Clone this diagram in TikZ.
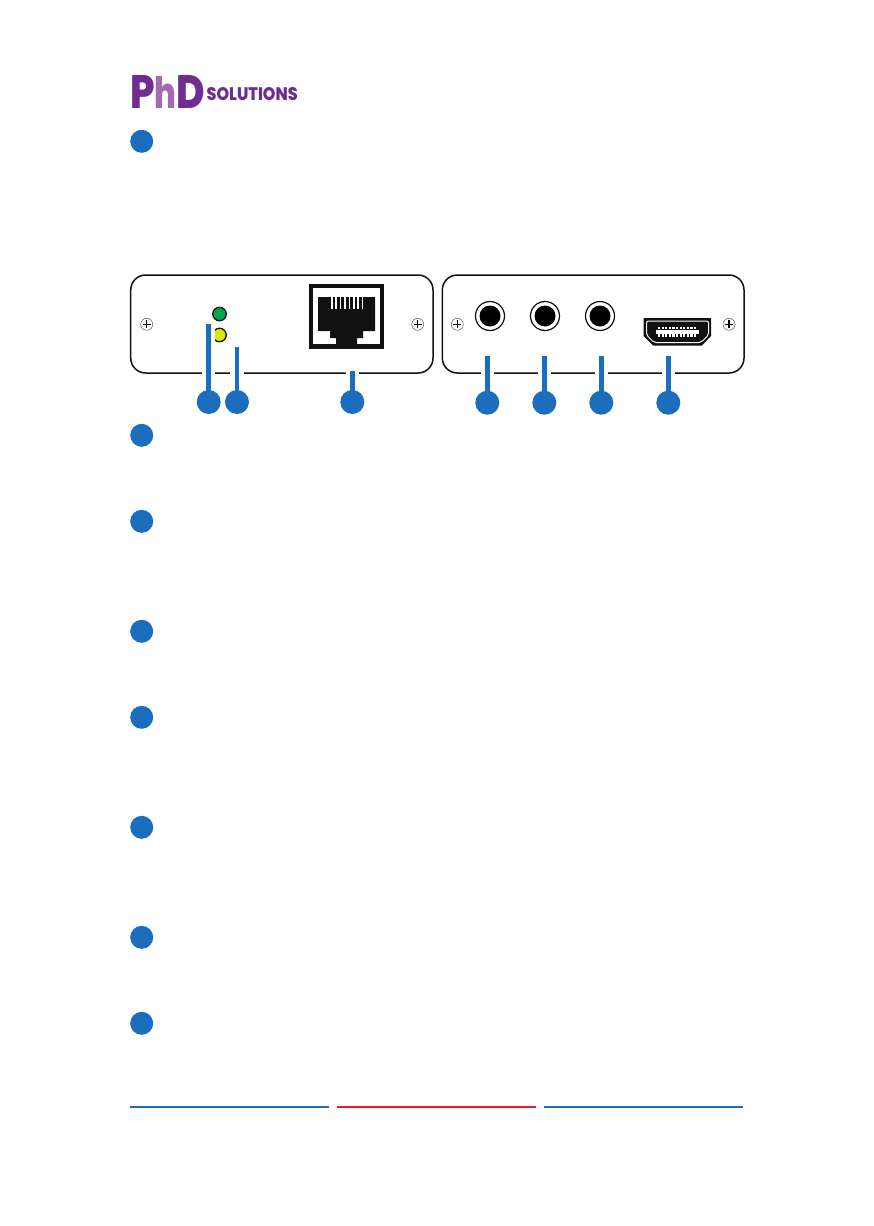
\documentclass[tikz,border=0pt]{standalone}
\usepackage{graphicx}
\usepackage{fontspec}
\setmainfont{Poppins}[BoldFont={Poppins ExtraBold},UprightFont={* Regular}]
\definecolor{pblue}{HTML}{1A6EBD}
\definecolor{pdark}{HTML}{6F2C91}
\definecolor{plight}{HTML}{A568B2}
\definecolor{pgreen}{HTML}{00A651}
\definecolor{pyellow}{HTML}{DDE600}
\definecolor{pred}{HTML}{ED1C24}
\definecolor{pblack}{HTML}{111111}
\tikzset{
  x=1pt,y=-1pt,
  panel/.style={draw=pblack,line width=1.5pt,fill=white,rounded corners=15pt},
  bullet/.style={circle,fill=pblue,minimum size=23pt,inner sep=0pt,draw=none},
  callout/.style={circle,fill=pblue,minimum size=24pt,inner sep=0pt,draw=none},
  conn/.style={draw=pblue,line width=4.6pt},
  connthin/.style={draw=pblue,line width=3.8pt},
  halo/.style={draw=white,line width=13.5pt},
  screw/.style={circle,draw=black!65,line width=0.5pt,fill=white,minimum size=12pt,inner sep=0pt},
  plusmark/.style={draw=black,line width=1.1pt},
  led/.style={circle,draw=pblack,line width=1.3pt,minimum size=13.5pt,inner sep=0pt},
  jackring/.style={circle,draw=pblack,line width=1.2pt,fill=white,minimum size=29pt,inner sep=0pt},
  jackcore/.style={circle,fill=black,minimum size=21pt,inner sep=0pt},
  rule/.style={line width=2.6pt},
  logo/.style={inner sep=0pt,anchor=south west,font=\bfseries},
}
\begin{document}
\begin{tikzpicture}
\useasboundingbox (0,0) rectangle (874,1226);
\fill[white] (0,0) rectangle (874,1226);
% logo
\node[logo,text=pdark] (logoP) at (130,109) {\resizebox{24.5pt}{33pt}{P}};
\node[logo,text=plight] (logoh) at (154.6,109) {\resizebox{21.8pt}{32pt}{h}};
\node[logo,text=pdark] (logoD) at (176.5,109) {\resizebox{28.5pt}{33pt}{D}};
\node[logo,text=pdark] (logoS) at (206.5,101) {\resizebox{91pt}{13pt}{SOLUTIONS}};
% text-column bullets
\foreach \n/\y in {a/141.3,b/435.3,c/521.3,d/631.3,e/717.3,f/827.3,g/937.3,h/1023.3}
  \node[bullet] (row\n) at (141.7,\y) {};
% panels
\draw[panel] (130.7,275) rectangle (433,373);
\draw[panel] (442.3,275) rectangle (744,373);
% screws
\foreach \n/\x in {s1/146.7,s2/417.7,s3/457.3,s4/729}{
  \node[screw] (\n) at (\x,324.3) {};
  \draw[plusmark] (\x-4,324.3) -- (\x+4,324.3) (\x,320.3) -- (\x,328.3);
}
% LEDs
\node[led,fill=pgreen] (ledg) at (219.5,314) {};
\node[led,fill=pyellow] (ledy) at (219.5,335) {};
% RJ45
\fill[pblack] (309,284) rectangle (384,349);
\fill[white] (313,288) rectangle (380,344);
\fill[pblack] (318,297) -- (375,297) -- (375,331) -- (363,331) -- (363,338) -- (357,338) -- (357,344) -- (336,344) -- (336,338) -- (330,338) -- (330,331) -- (318,331) -- cycle;
\foreach \i in {0,...,7}
  \fill[white] (331+\i*4.4,297) rectangle (332.5+\i*4.4,309);
% jacks
\foreach \n/\x in {j1/490,j2/545,j3/600}{
  \node[jackring] (\n) at (\x,316) {};
  \node[jackcore] (\n c) at (\x,316) {};
}
% HDMI
\fill[pblack] (643.7,318) -- (711,318) -- (711,336) -- (702,345.5) -- (653,345.5) -- (643.7,336) -- cycle;
\draw[white,line width=1pt,rounded corners=2pt] (646.5,321) -- (708.5,321) -- (708.5,335) -- (701,342.5) -- (654,342.5) -- (646.5,335) -- cycle;
\fill[white] (656,330) rectangle (699,334);
\foreach \i in {0,...,10}{
  \fill[white] (658+\i*3.6,326.7) rectangle (660.2+\i*3.6,329);
  \fill[white] (658+\i*3.6,334) rectangle (660.2+\i*3.6,336.7);
}
% callouts and connectors
\coordinate (t1) at (208.7,324);
\coordinate (t2) at (237,347);
\coordinate (t3) at (352.3,371);
\coordinate (t4) at (487.3,356);
\coordinate (t5) at (544.3,356);
\coordinate (t6) at (601.3,356);
\coordinate (t7) at (668.3,356);
\foreach \n/\x/\y in {1/208.7/402,2/237/402,3/352.3/402,4/487.3/402.7,5/544.3/402.7,6/601.3/402.7,7/668.3/402.7}
  \node[callout] (c\n) at (\x,\y) {};
\foreach \n in {1,...,7}
  \draw[halo] (t\n) -- (c\n.north);
\foreach \n in {1,3,4,5,6,7}
  \draw[conn] (t\n) -- (c\n.center);
\draw[connthin] (t2) -- (c2.center);
% footer rules
\draw[rule,pblue] (130,1107) -- (329,1107);
\draw[rule,pred] (337,1107) -- (536,1107);
\draw[rule,pblue] (544,1107) -- (743,1107);
\end{tikzpicture}
\end{document}
